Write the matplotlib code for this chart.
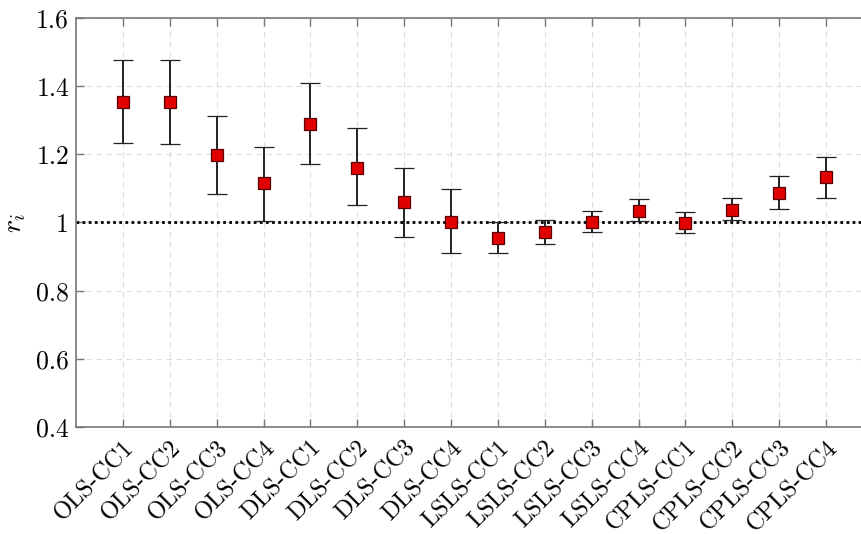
import matplotlib
matplotlib.use("Agg")
import matplotlib.pyplot as plt
import numpy as np

plt.rcParams['font.family'] = ['cmr10', 'DejaVu Serif']
plt.rcParams['mathtext.fontset'] = 'cm'
plt.rcParams['axes.formatter.use_mathtext'] = True

categories = ["OLS-CC1", "OLS-CC2", "OLS-CC3", "OLS-CC4",
              "DLS-CC1", "DLS-CC2", "DLS-CC3", "DLS-CC4",
              "LSLS-CC1", "LSLS-CC2", "LSLS-CC3", "LSLS-CC4",
              "CPLS-CC1", "CPLS-CC2", "CPLS-CC3", "CPLS-CC4"]
r_mean = [1.354, 1.353, 1.197, 1.115,
          1.289, 1.161, 1.060, 1.002,
          0.955, 0.971, 1.002, 1.034,
          0.998, 1.036, 1.087, 1.133]
r_upper = [1.476, 1.476, 1.312, 1.221,
           1.410, 1.276, 1.160, 1.097,
           1.001, 1.007, 1.034, 1.069,
           1.031, 1.072, 1.135, 1.193]
r_lower = [1.234, 1.231, 1.084, 1.005,
           1.171, 1.051, 0.958, 0.910,
           0.910, 0.937, 0.972, 1.004,
           0.968, 1.007, 1.040, 1.073]
y_ticks = [0.4, 0.6, 0.8, 1.0, 1.2, 1.4, 1.6]
y_ticklabels = ["0.4", "0.6", "0.8", "1", "1.2", "1.4", "1.6"]

fig = plt.figure(figsize=(8.62, 5.34), dpi=100)
ax = fig.add_axes([76/862, 1-427/534, (873-76)/862, (427-18)/534])

x = np.arange(1, len(categories) + 1)
mean = np.array(r_mean)
yerr = np.vstack([mean - np.array(r_lower), np.array(r_upper) - mean])

ax.axhline(1.0, color='black', linestyle=(0, (1, 1.2)), linewidth=2.0, zorder=2)
ax.errorbar(x, mean, yerr=yerr, fmt='s', color='#111111', ecolor='#222222',
            elinewidth=1.4, capsize=7.5, capthick=1.4,
            markerfacecolor='#e00000', markeredgecolor='#5a0000',
            markeredgewidth=0.9, markersize=8, zorder=3)

ax.set_xlim(0, 17)
ax.set_ylim(0.4, 1.6)
ax.set_xticks(x)
ax.set_xticklabels(categories, rotation=45, ha='right', va='top',
                   rotation_mode='anchor', fontsize=17.5)
ax.set_yticks(y_ticks)
ax.set_yticklabels(y_ticklabels, fontsize=18.5)
ax.set_ylabel(r'$r_i$', fontsize=20, labelpad=6)

ax.grid(True, linestyle=(0, (5, 4)), color='#dddddd', linewidth=0.8)
ax.set_axisbelow(True)
ax.tick_params(direction='in', length=6, color='#777777', width=1.0,
               top=True, right=False, pad=5)
ax.tick_params(axis='x', pad=7)
for s in ax.spines.values():
    s.set_color('#777777')
    s.set_linewidth(1.2)
ax.spines['right'].set_visible(False)

fig.savefig("out.png", dpi=100)
